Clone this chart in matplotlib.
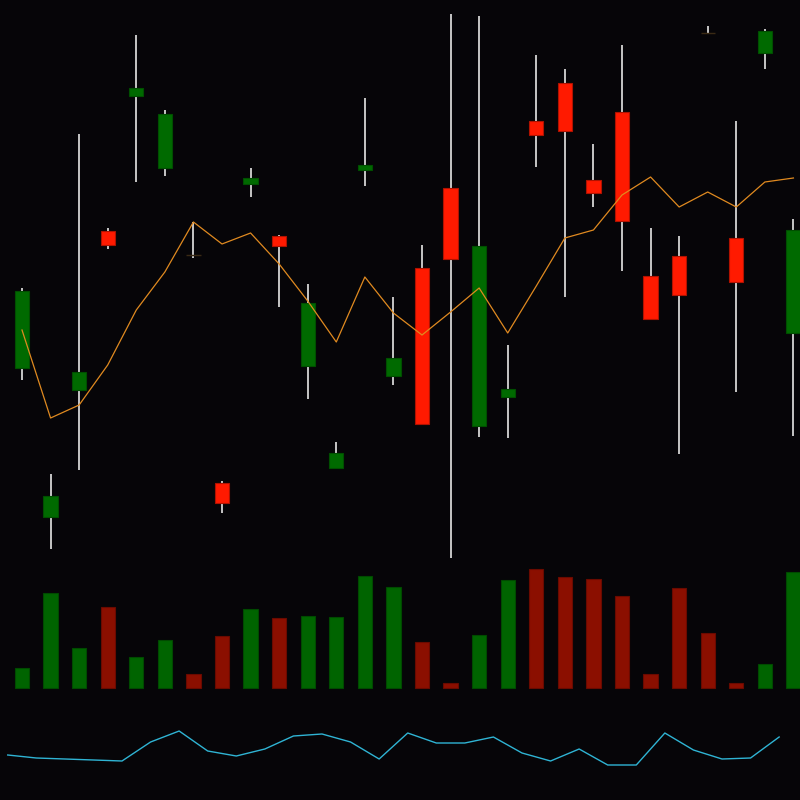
import numpy as np
import matplotlib
matplotlib.use("Agg")
import matplotlib.pyplot as plt

# daily candles
opens  = [23.84, 20.86, 23.40, 26.58, 29.28, 27.84, 26.12, 21.54, 27.52, 26.48,
          23.88, 21.84, 27.80, 23.68, 25.84, 27.44, 22.68, 23.26, 28.78, 29.54,
          27.60, 28.96, 25.68, 26.08, 30.56, 26.44, 30.14, 24.54]
closes = [25.38, 21.28, 23.76, 26.30, 29.44, 28.92, 26.11, 21.14, 27.64, 26.28,
          25.14, 22.14, 27.90, 24.04, 22.72, 26.02, 26.28, 23.42, 28.50, 28.58,
          27.34, 26.78, 24.82, 25.30, 30.55, 25.56, 30.58, 26.60]
highs  = [25.44, 21.72, 28.52, 26.64, 30.50, 29.00, 26.76, 21.58, 27.84, 26.50,
          25.52, 22.36, 29.24, 25.26, 26.30, 30.92, 30.88, 24.30, 30.10, 29.82,
          28.32, 30.30, 26.64, 26.48, 30.68, 28.78, 30.62, 26.82]
lows   = [23.60, 20.22, 21.80, 26.22, 27.56, 27.68, 26.04, 20.94, 27.26, 25.06,
          23.22, 21.84, 27.48, 23.50, 22.70, 20.04, 22.46, 22.44, 27.86, 25.26,
          27.06, 25.78, 24.80, 22.12, 30.55, 23.36, 29.82, 22.48]
ma     = [24.60, 22.84, 23.10, 23.90, 25.00, 25.76, 26.76, 26.32, 26.54, 25.92,
          25.18, 24.36, 25.66, 24.94, 24.50, 24.96, 25.44, 24.54, 25.48, 26.44,
          26.60, 27.30, 27.66, 27.06, 27.36, 27.06, 27.56, 27.64]
volume = [20, 95, 40, 81, 31, 48, 14, 52, 79, 70, 72, 71, 112, 101, 46, 5,
          53, 108, 119, 111, 109, 92, 14, 100, 55, 5, 24, 116]
indicator = [45, 42, 41, 40, 39, 58, 69, 49, 44, 51, 64, 66, 58, 41,
             67, 57, 57, 63, 47, 39, 51, 35, 35, 67, 50, 41, 42, 63]

bg = "#060508"
x = np.arange(len(opens))
o = np.array(opens)
c = np.array(closes)
up = c >= o
# doji candles take the colour of their volume bar
up[6] = False
up[24] = False
doji = np.abs(c - o) < 0.05

fig = plt.figure(figsize=(8, 8), dpi=100, facecolor=bg)
xlim = (-0.77, 27.23)

# price panel
ax = fig.add_axes([0, 0, 1, 1])
ax.set_facecolor(bg)
ax.vlines(x, lows, highs, color="#e6e6e6", lw=1.2, zorder=1)
body_col = np.where(up, "#006a00", "#ff1a00")
edge_col = np.where(up, "#004f00", "#b01200")
b = ~doji
ax.bar(x[b], np.abs(c - o)[b], bottom=np.minimum(o, c)[b], width=0.5,
       color=body_col[b], edgecolor=edge_col[b], linewidth=0.8, zorder=2)
# dojis show only as a faint dash
ax.hlines(c[doji], x[doji] - 0.25, x[doji] + 0.25, color="#3a2a14", lw=1.0, zorder=2)
ax.plot(x, ma, color="#e08a20", lw=0.9, zorder=3)
ax.set_xlim(*xlim)
ax.set_ylim(15.2, 31.2)
ax.axis("off")

# volume panel
axv = fig.add_axes([0, 0, 1, 1])
axv.patch.set_alpha(0)
vol_col = np.where(up, "#006400", "#8b0f00")
vol_edge = np.where(up, "#004a00", "#6a0a00")
axv.bar(x, volume, width=0.5, color=vol_col, edgecolor=vol_edge, linewidth=0.8)
axv.set_xlim(*xlim)
axv.set_ylim(-112, 688)
axv.axis("off")

# indicator panel
axi = fig.add_axes([0, 0, 1, 1])
axi.patch.set_alpha(0)
axi.plot(x - 0.5, indicator, color="#2fb4d4", lw=1.0)
axi.set_xlim(*xlim)
axi.set_ylim(0, 800)
axi.axis("off")

fig.savefig("out.png", dpi=100, facecolor=bg)
